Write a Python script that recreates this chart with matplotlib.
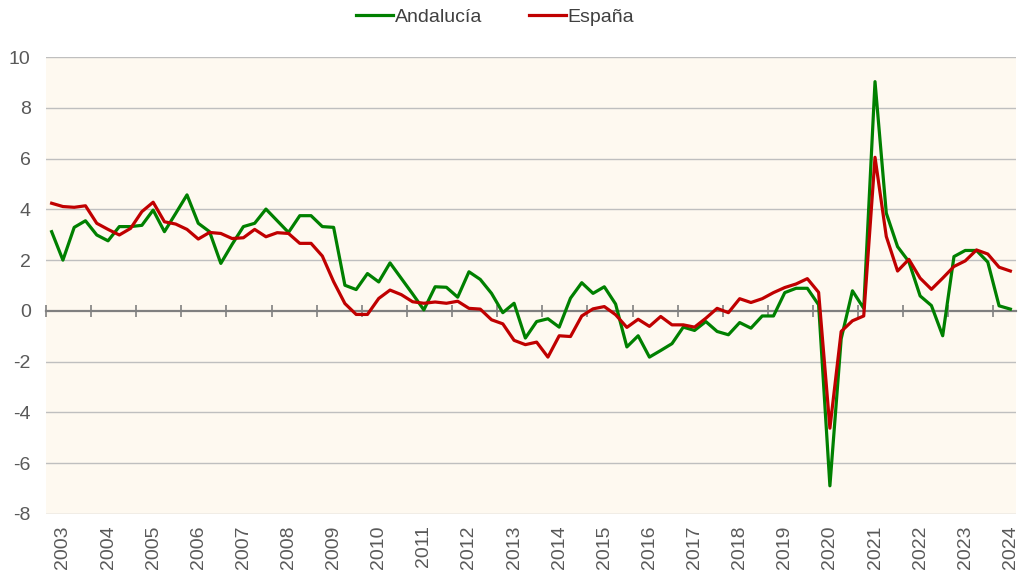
import numpy as np
import matplotlib
matplotlib.use('Agg')
import matplotlib.pyplot as plt

plt.rcParams['font.family'] = ['Liberation Sans', 'DejaVu Sans']

# quarterly data, 2003Q1 .. 2024Q2
years = list(range(2003, 2025))
andalucia = [3.12, 2.00, 3.29, 3.55, 2.99, 2.76, 3.32, 3.32, 3.37, 3.97, 3.12, 3.84,
             4.57, 3.45, 3.12, 1.87, 2.62, 3.32, 3.45, 4.01, 3.55, 3.09, 3.75, 3.75,
             3.32, 3.29, 1.01, 0.84, 1.47, 1.14, 1.89, 1.28, 0.67, 0.04, 0.95, 0.93,
             0.54, 1.54, 1.24, 0.69, -0.07, 0.30, -1.07, -0.42, -0.31, -0.64, 0.50, 1.11,
             0.69, 0.95, 0.27, -1.42, -0.98, -1.82, -1.56, -1.29, -0.64, -0.77, -0.42, -0.81,
             -0.94, -0.46, -0.68, -0.20, -0.20, 0.72, 0.89, 0.89, 0.24, -6.89, -1.10, 0.79,
             0.10, 9.03, 3.85, 2.53, 1.94, 0.59, 0.21, -0.98, 2.14, 2.38, 2.38, 1.92,
             0.20, 0.07]
espana = [4.24, 4.11, 4.08, 4.14, 3.45, 3.21, 2.99, 3.25, 3.91, 4.28, 3.51, 3.42,
          3.21, 2.83, 3.09, 3.05, 2.85, 2.88, 3.21, 2.92, 3.08, 3.05, 2.66, 2.66,
          2.16, 1.15, 0.29, -0.14, -0.14, 0.49, 0.82, 0.64, 0.36, 0.30, 0.35, 0.30,
          0.38, 0.10, 0.07, -0.35, -0.51, -1.16, -1.33, -1.23, -1.82, -0.98, -1.01, -0.20,
          0.08, 0.17, -0.15, -0.65, -0.33, -0.61, -0.22, -0.55, -0.55, -0.64, -0.29, 0.10,
          -0.07, 0.48, 0.33, 0.48, 0.72, 0.92, 1.06, 1.27, 0.73, -4.62, -0.81, -0.39,
          -0.20, 6.05, 2.93, 1.57, 2.03, 1.29, 0.85, 1.29, 1.75, 1.97, 2.40, 2.24,
          1.72, 1.57]
yticks = list(range(-8, 11, 2))

x = np.arange(len(andalucia))

fig = plt.figure(figsize=(10.21, 5.73), dpi=100)
ax = fig.add_axes([46/1021, 1-514/573, 970/1021, 457/573])
ax.set_facecolor('#FEF9F0')

for v in yticks:
    if v != 0:
        ax.axhline(v, color='#BFBFBF', lw=1, zorder=1)

ax.plot(x, andalucia, color='#008000', lw=2.3, label='Andalucía', zorder=3)
ax.plot(x, espana, color='#C00000', lw=2.3, label='España', zorder=4)

ax.set_xlim(-0.5, len(x) - 0.5)
ax.set_ylim(-8, 10)
ax.set_yticks(yticks)
ax.set_yticklabels([str(v) for v in yticks], fontsize=14, color='#595959')
ax.tick_params(axis='y', length=0, pad=11)

# horizontal axis sits at zero, ticks between years
for s in ['top', 'right', 'left']:
    ax.spines[s].set_visible(False)
ax.spines['bottom'].set_position(('data', 0))
ax.spines['bottom'].set_color('#808080')
ax.spines['bottom'].set_linewidth(1.6)
ax.spines['bottom'].set_zorder(2)
ax.set_xticks([4*k - 0.5 for k in range(len(years))])
ax.set_xticklabels([])
ax.tick_params(axis='x', direction='inout', length=9, width=1.2, color='#808080')

for k, yr in enumerate(years):
    ax.text(4*k + 1, -0.025, str(yr), transform=ax.get_xaxis_transform(),
            rotation=90, ha='center', va='top', fontsize=14, color='#595959')

fig.legend(loc='center', bbox_to_anchor=(0.485, 0.97), ncol=2, frameon=False,
           fontsize=14, handlelength=1.9, handletextpad=0.1, columnspacing=2.4,
           labelcolor='#404040')

fig.savefig('out.png', dpi=100)
